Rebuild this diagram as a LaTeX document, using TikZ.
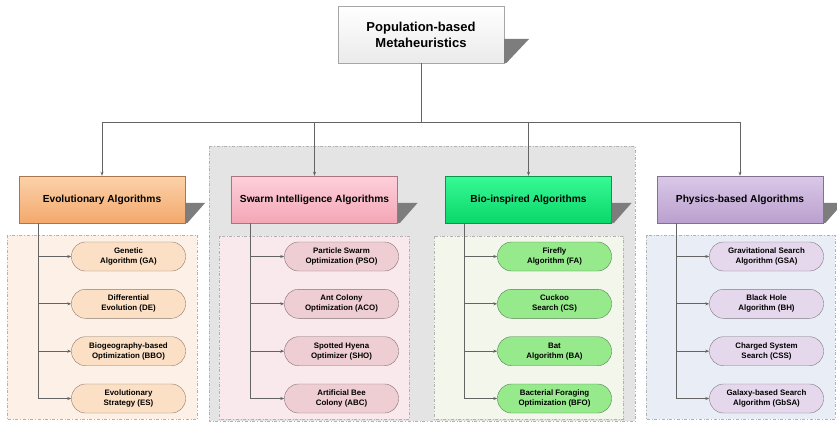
\documentclass[tikz,border=0pt]{standalone}
\usepackage{fontspec}
\setmainfont{Liberation Sans}
\usetikzlibrary{arrows.meta,positioning,calc}
\definecolor{linegray}  {RGB}{100,100,100}
\definecolor{shadegray} {RGB}{125,125,125}
\definecolor{biggray}   {RGB}{228,228,228}
\definecolor{evotop}    {RGB}{251,210,170}
\definecolor{evobot}    {RGB}{244,168,108}
\definecolor{evoleaf}   {RGB}{252,224,198}
\definecolor{evogrp}    {RGB}{252,240,231}
\definecolor{switop}    {RGB}{253,208,218}
\definecolor{swibot}    {RGB}{244,166,182}
\definecolor{swileaf}   {RGB}{238,206,211}
\definecolor{swigrp}    {RGB}{249,233,236}
\definecolor{biotop}    {RGB}{55,250,150}
\definecolor{biobot}    {RGB}{10,215,105}
\definecolor{bioleaf}   {RGB}{150,234,140}
\definecolor{biogrp}    {RGB}{242,246,235}
\definecolor{phytop}    {RGB}{218,200,232}
\definecolor{phybot}    {RGB}{186,160,206}
\definecolor{phyleaf}   {RGB}{229,216,236}
\definecolor{phygrp}    {RGB}{233,237,245}

% shadow wedge at the right side of a box: node, drop from top, width
\newcommand{\wedgeshadow}[3]{%
  \fill[shadegray] ($(#1.north east)+(0,#2)$) -- ++(#3,0)
    -- ($(#1.south east)+(2,0)$) -- (#1.south east) -- cycle;}

\begin{document}
\begin{tikzpicture}[
  x=1pt,y=-1pt,
  rootbox/.style={draw=black!35,top color=white,bottom color=black!8,
                  minimum width=166pt,minimum height=57pt,align=center,
                  font=\fontsize{13}{16}\selectfont\bfseries},
  catbox/.style={draw=#1bot!70!black,top color=#1top,bottom color=#1bot,
                 minimum width=166pt,minimum height=47pt,align=center,
                 font=\fontsize{10.2}{12}\selectfont\bfseries},
  leaf/.style={draw=#1leaf!55!black,fill=#1leaf,rounded corners=14pt,
               minimum width=114pt,minimum height=29pt,align=center,
               inner sep=1pt,font=\fontsize{7.9}{10}\selectfont\bfseries},
  grp/.style={draw=black!30,dash dot,line width=0.6pt},
  line/.style={draw=linegray,line width=0.8pt},
  arr/.style={line,-{Stealth[length=4pt,width=3pt]}},
]
\useasboundingbox (0,0) rectangle (837,423);

%% ── Backgrounds ──────────────────────────────────────────────────────────
\draw[grp,fill=biggray] (209,146) rectangle (635,421);
\draw[grp,fill=evogrp] (7,235) rectangle (197,419);
\draw[grp,fill=swigrp] (219,236) rectangle (409,419);
\draw[grp,fill=biogrp] (434,236) rectangle (623,419);
\draw[grp,fill=phygrp] (646,235) rectangle (835,419);

%% ── Root ─────────────────────────────────────────────────────────────────
\node[rootbox] (root) at (421,34.5) {Population-based\\Metaheuristics};
\wedgeshadow{root}{33}{25}

%% ── Categories ───────────────────────────────────────────────────────────
\node[catbox=evo] (evo)   at (102,199.5)   {Evolutionary Algorithms};
\node[catbox=swi] (swarm) at (314.5,199.5) {Swarm Intelligence Algorithms};
\node[catbox=bio] (bio)   at (528.5,199.5) {Bio-inspired Algorithms};
\node[catbox=phy] (phys)  at (740,199.5)   {Physics-based Algorithms};
\wedgeshadow{evo}{27}{20}
\wedgeshadow{swarm}{27}{20}
\wedgeshadow{bio}{27}{20}
\wedgeshadow{phys}{27}{20}

%% ── Evolutionary leaves ──────────────────────────────────────────────────
\node[leaf=evo] (ga)  at (128.5,256.5) {Genetic\\Algorithm (GA)};
\node[leaf=evo] (de)  at (128.5,303.8) {Differential\\Evolution (DE)};
\node[leaf=evo] (bbo) at (128.5,351.2) {Biogeography-based\\Optimization (BBO)};
\node[leaf=evo] (es)  at (128.5,398.5) {Evolutionary\\Strategy (ES)};

%% ── Swarm leaves ─────────────────────────────────────────────────────────
\node[leaf=swi] (pso) at (341.5,256.5) {Particle Swarm\\Optimization (PSO)};
\node[leaf=swi] (aco) at (341.5,303.8) {Ant Colony\\Optimization (ACO)};
\node[leaf=swi] (sho) at (341.5,351.2) {Spotted Hyena\\Optimizer (SHO)};
\node[leaf=swi] (abc) at (341.5,398.5) {Artificial Bee\\Colony (ABC)};

%% ── Bio-inspired leaves ──────────────────────────────────────────────────
\node[leaf=bio] (fa)  at (554.5,256.5) {Firefly\\Algorithm (FA)};
\node[leaf=bio] (cs)  at (554.5,303.8) {Cuckoo\\Search (CS)};
\node[leaf=bio] (ba)  at (554.5,351.2) {Bat\\Algorithm (BA)};
\node[leaf=bio] (bfo) at (554.5,398.5) {Bacterial Foraging\\Optimization (BFO)};

%% ── Physics leaves ───────────────────────────────────────────────────────
\node[leaf=phy] (gsa)  at (766.5,256.5) {Gravitational Search\\Algorithm (GSA)};
\node[leaf=phy] (bh)   at (766.5,303.8) {Black Hole\\Algorithm (BH)};
\node[leaf=phy] (css)  at (766.5,351.2) {Charged System\\Search (CSS)};
\node[leaf=phy] (gbsa) at (766.5,398.5) {Galaxy-based Search\\Algorithm (GbSA)};

%% ── Root → categories ────────────────────────────────────────────────────
\coordinate (hub) at (root.south |- 0,122);
\draw[line] (root.south) -- (hub);
\draw[arr] (hub) -| (evo.north);
\draw[arr] (hub) -| (swarm.north);
\draw[arr] (hub) -| (bio.north);
\draw[arr] (hub) -| (phys.north);

%% ── Categories → leaves ──────────────────────────────────────────────────
\coordinate (evotrunk)  at ($(evo.south west)+(19.5,0)$);
\coordinate (switrunk)  at ($(swarm.south west)+(19.5,0)$);
\coordinate (biotrunk)  at ($(bio.south west)+(19.5,0)$);
\coordinate (phytrunk)  at ($(phys.south west)+(19.5,0)$);
\draw[arr] (evotrunk) |- (ga.west);
\draw[arr] (evotrunk) |- (de.west);
\draw[arr] (evotrunk) |- (bbo.west);
\draw[arr] (evotrunk) |- (es.west);
\draw[arr] (switrunk) |- (pso.west);
\draw[arr] (switrunk) |- (aco.west);
\draw[arr] (switrunk) |- (sho.west);
\draw[arr] (switrunk) |- (abc.west);
\draw[arr] (biotrunk) |- (fa.west);
\draw[arr] (biotrunk) |- (cs.west);
\draw[arr] (biotrunk) |- (ba.west);
\draw[arr] (biotrunk) |- (bfo.west);
\draw[arr] (phytrunk) |- (gsa.west);
\draw[arr] (phytrunk) |- (bh.west);
\draw[arr] (phytrunk) |- (css.west);
\draw[arr] (phytrunk) |- (gbsa.west);

\end{tikzpicture}
\end{document}
